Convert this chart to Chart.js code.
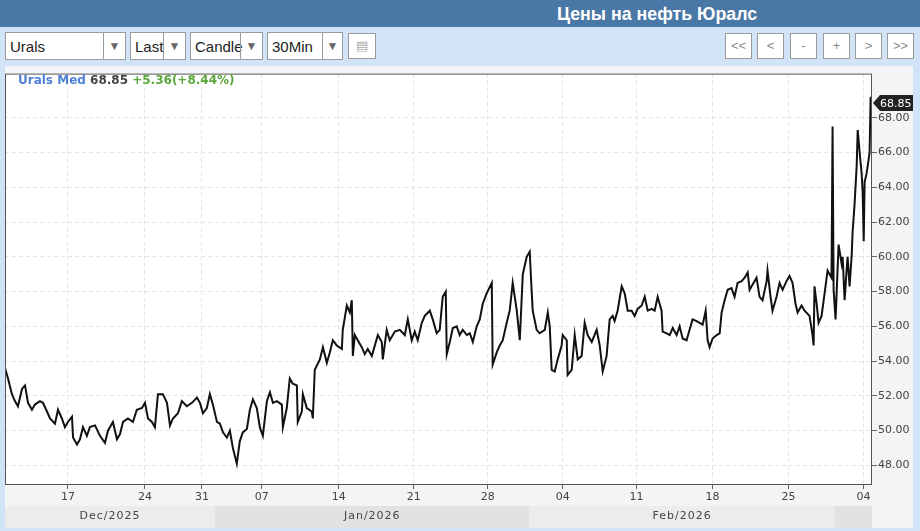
<!DOCTYPE html>
<html>
<head>
<meta charset="utf-8">
<script src="https://cdn.jsdelivr.net/npm/chart.js@4/dist/chart.umd.min.js"></script>
<style>
  body { margin: 0; width: 920px; height: 531px; background: #d2e3f7; font-family: "Liberation Sans", Arial, sans-serif; overflow: hidden; position: relative; }
  #header { position: absolute; left: 0; top: 0; width: 920px; height: 27px; background: #4a78a6; }
  #header span { position: absolute; left: 557px; top: 4px; color: #fff; font-weight: bold; font-size: 17.8px; }
  .sel { position: absolute; top: 32px; height: 28px; background: #fff; border: 1px solid #9a9a9a; box-sizing: border-box; font-size: 15px; color: #222; }
  .sel .t { position: absolute; left: 4px; top: 5px; }
  .sel .a { position: absolute; top: 0; right: 0; height: 26px; border-left: 1px solid #9a9a9a; color: #666; font-size: 12px; text-align: center; line-height: 26px; }
  .btn { position: absolute; top: 33px; width: 27px; height: 26px; background: #fff; border: 1px solid #9a9a9a; box-sizing: border-box; color: #888; font-size: 13px; text-align: center; line-height: 24px; }
  #wrap { position: absolute; left: 5px; top: 66px; }
  #legend { position: absolute; left: 18px; top: 73px; font-family: "DejaVu Sans", sans-serif; font-weight: bold; font-size: 12px; }
</style>
</head>
<body>
<div id="header"><span>Цены на нефть Юралс</span></div>
<div class="sel" style="left:5px;width:121px"><span class="t">Urals</span><span class="a" style="width:21px">&#9660;</span></div>
<div class="sel" style="left:130px;width:56px"><span class="t">Last</span><span class="a" style="width:21px">&#9660;</span></div>
<div class="sel" style="left:190px;width:73px"><span class="t">Candle</span><span class="a" style="width:21px">&#9660;</span></div>
<div class="sel" style="left:267px;width:76px"><span class="t">30Min</span><span class="a" style="width:19px">&#9660;</span></div>
<div class="btn" style="left:348px;width:28px;color:#aaa">&#9636;</div>
<div class="btn" style="left:725px">&lt;&lt;</div>
<div class="btn" style="left:757px">&lt;</div>
<div class="btn" style="left:790px">-</div>
<div class="btn" style="left:823px">+</div>
<div class="btn" style="left:855px">&gt;</div>
<div class="btn" style="left:887px">&gt;&gt;</div>
<div id="wrap"><canvas id="c" width="908" height="462"></canvas></div>
<div id="legend"><span style="color:#4f7fd6">Urals Med</span> <span style="color:#444">68.85</span> <span style="color:#5aa83c">+5.36(+8.44%)</span></div>
<script>
// trading-day position (0 = left edge, Dec 11 2025) and Urals price
const sessionDay = [0.00,0.20,0.46,0.66,0.86,1.13,1.33,1.53,1.79,1.99,2.32,2.52,2.79,2.99,3.32,3.52,3.78,3.98,4.18,4.45,4.52,4.78,4.98,5.18,5.44,5.64,5.98,6.31,6.64,6.84,7.17,7.44,7.64,7.84,8.17,8.50,8.76,9.10,9.30,9.50,9.76,9.96,10.16,10.49,10.76,10.96,11.16,11.49,11.75,12.08,12.42,12.75,12.95,13.15,13.41,13.61,13.81,14.08,14.28,14.48,14.74,14.94,15.14,15.40,15.60,15.80,16.07,16.27,16.47,16.73,16.93,17.13,17.40,17.60,17.80,18.06,18.39,18.46,18.72,18.92,19.12,19.39,19.45,19.72,19.79,20.05,20.38,20.45,20.58,20.92,21.12,21.38,21.58,21.78,22.04,22.38,22.44,22.71,22.91,23.04,23.11,23.24,23.44,23.70,23.90,24.10,24.37,24.57,24.77,25.03,25.10,25.36,25.56,25.90,26.23,26.56,26.76,27.02,27.22,27.42,27.69,27.89,28.22,28.42,28.68,28.88,29.08,29.28,29.35,29.55,29.75,30.01,30.21,30.41,30.68,30.88,31.08,31.34,31.54,31.74,32.00,32.34,32.40,32.67,32.87,33.07,33.33,33.53,33.73,34.00,34.20,34.40,34.66,34.86,34.99,35.06,35.32,35.52,35.86,36.06,36.19,36.32,36.52,36.72,36.98,37.05,37.32,37.38,37.65,37.85,38.05,38.31,38.51,38.71,38.98,39.31,39.51,39.71,39.97,40.17,40.37,40.50,40.70,40.97,41.17,41.37,41.63,41.83,42.03,42.30,42.50,42.70,42.96,43.16,43.36,43.62,43.69,43.96,44.16,44.36,44.62,44.82,45.02,45.28,45.48,45.68,45.95,46.15,46.35,46.55,46.68,46.81,47.01,47.28,47.48,47.61,47.81,48.01,48.27,48.47,48.67,48.94,49.14,49.34,49.47,49.67,49.93,50.13,50.33,50.60,50.66,50.86,50.99,51.26,51.46,51.66,51.92,52.12,52.32,52.52,52.66,52.92,53.12,53.45,53.65,53.72,53.78,53.92,54.05,54.25,54.45,54.65,54.91,54.98,55.05,55.18,55.25,55.38,55.58,55.65,55.78,55.91,55.98,56.11,56.25,56.31,56.44,56.58,56.65,56.78,56.91,56.98,57.05,57.11,57.24,57.31,57.44,57.51,57.57];
const urals = [53.6,53.0,52.1,51.7,51.4,52.4,52.6,51.6,51.2,51.5,51.7,51.6,51.1,50.7,50.4,51.2,50.7,50.2,50.5,50.8,49.6,49.2,49.5,50.2,49.7,50.2,50.3,49.7,49.3,50.0,50.5,49.5,49.8,50.5,50.7,50.5,51.2,51.3,51.6,50.7,50.5,50.2,52.1,52.1,51.6,50.3,50.7,51.0,51.7,51.4,51.6,51.9,51.6,51.0,51.3,52.1,51.5,50.5,50.4,49.9,49.6,50.0,49.0,48.1,49.4,49.9,50.1,51.2,51.8,51.3,50.2,49.7,51.7,52.2,51.6,51.7,51.5,50.2,51.3,53.0,52.7,52.6,50.5,51.1,52.1,51.3,51.1,50.7,53.5,54.1,54.8,53.9,54.5,55.2,54.9,54.7,55.8,57.2,56.8,57.5,54.3,55.5,55.2,54.8,54.4,54.7,54.3,54.9,55.5,55.1,54.1,55.8,55.2,55.7,55.8,55.5,56.4,55.2,55.7,55.2,56.2,56.6,56.9,56.4,55.6,55.8,57.7,58.0,54.4,55.1,55.9,56.0,55.5,55.8,55.5,55.6,55.1,56.0,56.4,57.3,57.9,58.5,53.8,54.5,54.9,55.2,56.2,56.9,58.5,56.9,55.2,59.0,60.0,60.3,58.0,56.9,55.8,55.6,55.8,56.8,56.0,53.5,53.4,54.1,54.9,55.5,55.2,53.2,53.5,55.5,54.1,54.3,56.2,55.5,55.1,55.8,54.9,53.4,54.3,56.4,56.6,56.3,56.9,58.3,57.9,56.9,56.9,56.6,57.0,57.2,57.7,56.9,57.0,56.9,57.7,56.9,55.7,55.6,55.5,55.9,55.5,56.0,55.3,55.2,55.8,56.4,56.3,56.2,56.1,56.9,55.2,54.8,55.3,55.5,55.6,56.8,57.5,58.1,58.2,57.7,58.5,58.6,58.8,59.1,58.1,58.4,58.8,57.7,57.5,58.6,59.2,57.7,56.9,57.7,58.5,58.1,58.6,58.9,58.5,57.3,56.8,57.2,56.9,56.6,55.5,54.9,58.3,57.3,56.2,56.6,57.9,59.2,58.8,67.5,58.1,56.4,57.9,60.7,59.6,60.0,57.5,59.2,60.0,58.3,60.1,61.4,63.0,65.2,67.3,66.0,64.8,63.7,60.9,64.3,64.8,65.2,66.0,69.2,68.85];

const xTickPos = [4.18, 9.30, 13.08, 17.06, 22.18, 27.16, 32.07, 37.05, 41.96, 47.01, 52.06, 57.04];
const xTickLabels = ["17", "24", "31", "07", "14", "21", "28", "04", "11", "18", "25", "04"];
const yTickValues = [48, 50, 52, 54, 56, 58, 60, 62, 64, 66, 68];

const monthStart = [0, 13.94, 34.86, 55.11];
const monthLabels = ["Dec/2025", "Jan/2026", "Feb/2026", ""];
const lastPrice = 68.85;

const panelPlugin = {
  id: "panel",
  beforeDraw(chart) {
    const { ctx, chartArea: a, width, height } = chart;
    ctx.save();
    ctx.fillStyle = "#f3f4f6";
    ctx.fillRect(0, 0, width, height);
    ctx.fillStyle = "#fff";
    ctx.fillRect(a.left, a.top, a.right - a.left, a.bottom - a.top);
    ctx.restore();
  },
  afterDraw(chart) {
    const { ctx, chartArea: a, height } = chart;
    const xs = chart.scales.x, ys = chart.scales.y;
    ctx.save();
    // frame
    ctx.strokeStyle = "#555";
    ctx.lineWidth = 1;
    ctx.strokeRect(a.left + 0.5, a.top + 0.5, a.right - a.left - 1, a.bottom - a.top);
    // month band
    const top = height - 22;
    for (let i = 0; i < monthStart.length; i++) {
      const x0 = xs.getPixelForValue(monthStart[i]);
      const x1 = i + 1 < monthStart.length ? xs.getPixelForValue(monthStart[i + 1]) : a.right;
      ctx.fillStyle = i % 2 ? "#e2e2e2" : "#ececec";
      ctx.fillRect(x0, top, x1 - x0, 22);
      ctx.fillStyle = "#444";
      ctx.font = "11px 'DejaVu Sans'";
      ctx.textAlign = "center";
      ctx.textBaseline = "middle";
      ctx.letterSpacing = "1px";
      ctx.fillText(monthLabels[i], (x0 + x1) / 2, top + 10);
    }
    // last price tag
    const y = ys.getPixelForValue(lastPrice);
    const x = a.right + 1;
    ctx.fillStyle = "#222";
    ctx.beginPath();
    ctx.moveTo(x, y);
    ctx.lineTo(x + 7, y - 8);
    ctx.lineTo(x + 40, y - 8);
    ctx.lineTo(x + 40, y + 8);
    ctx.lineTo(x + 7, y + 8);
    ctx.closePath();
    ctx.fill();
    ctx.fillStyle = "#fff";
    ctx.font = "11px 'DejaVu Sans'";
    ctx.textAlign = "left";
    ctx.textBaseline = "middle";
    ctx.letterSpacing = "0px";
    ctx.fillText(lastPrice.toFixed(2), x + 7, y + 1);
    ctx.restore();
  }
};

new Chart(document.getElementById("c").getContext("2d"), {
  type: "line",
  data: {
    datasets: [{
      data: sessionDay.map((d, i) => ({ x: d, y: urals[i] })),
      borderColor: "#111",
      borderWidth: 2,
      pointRadius: 0,
      tension: 0
    }]
  },
  options: {
    responsive: false,
    animation: false,
    events: [],
    layout: { padding: 0 },
    plugins: { legend: { display: false }, tooltip: { enabled: false } },
    scales: {
      x: {
        type: "linear",
        min: 0,
        max: 57.6,
        afterBuildTicks: s => { s.ticks = xTickPos.map(v => ({ value: v })); },
        afterFit: s => { s.height = 44; },
        ticks: {
          autoSkip: false,
          maxRotation: 0,
          padding: 2,
          color: "#444",
          font: { family: "DejaVu Sans", size: 11 },
          callback: (v, i) => xTickLabels[i]
        },
        grid: { color: "#e4e4e4", tickColor: "#666", tickLength: 5, tickBorderDash: [] },
        border: { display: false, dash: [4, 3] }
      },
      y: {
        position: "right",
        min: 46.93,
        max: 70.54,
        afterBuildTicks: s => { s.ticks = yTickValues.map(v => ({ value: v })); },
        afterFit: s => { s.width = 41; },
        ticks: {
          padding: 1,
          color: "#444",
          font: { family: "DejaVu Sans", size: 11 },
          callback: v => v.toFixed(2)
        },
        grid: { color: "#e4e4e4", tickColor: "#666", tickLength: 5, tickBorderDash: [] },
        border: { display: false, dash: [4, 3] }
      }
    }
  },
  plugins: [panelPlugin]
});
</script>
</body>
</html>
